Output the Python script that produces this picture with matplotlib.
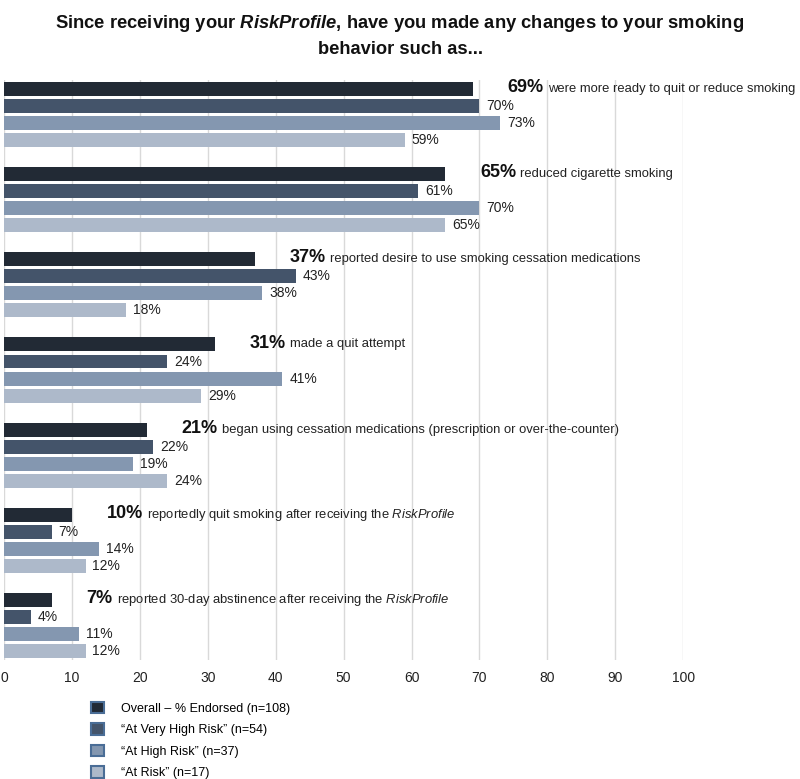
import matplotlib
matplotlib.use("Agg")
import matplotlib.pyplot as plt
from matplotlib.patches import Patch
import numpy as np

plt.rcParams['font.family'] = ['Liberation Sans', 'DejaVu Sans']
plt.rcParams['mathtext.fontset'] = 'custom'
plt.rcParams['mathtext.rm'] = 'Liberation Sans'
plt.rcParams['mathtext.it'] = 'Liberation Sans:italic'
plt.rcParams['mathtext.bf'] = 'Liberation Sans:bold:italic'

# data
items = ["were more ready to quit or reduce smoking",
         "reduced cigarette smoking",
         "reported desire to use smoking cessation medications",
         "made a quit attempt",
         "began using cessation medications (prescription or over-the-counter)",
         r"reportedly quit smoking after receiving the $\mathit{RiskProfile}$",
         r"reported 30-day abstinence after receiving the $\mathit{RiskProfile}$"]
overall = [69, 65, 37, 31, 21, 10, 7]
very_high = [70, 61, 43, 24, 22, 7, 4]
high = [73, 70, 38, 41, 19, 14, 11]
at_risk = [59, 65, 18, 29, 24, 12, 12]
series_names = ["Overall \u2013 % Endorsed (n=108)",
                "\u201cAt Very High Risk\u201d (n=54)",
                "\u201cAt High Risk\u201d (n=37)",
                "\u201cAt Risk\u201d (n=17)"]
colors = ['#222a35', '#44546a', '#8497b0', '#adb9ca']

fig = plt.figure(figsize=(8, 7.79), dpi=100)
ax = fig.add_axes([0.005, 0.153, 0.849, 0.744])

series = [overall, very_high, high, at_risk]
n = len(items)
for j, vals in enumerate(series):
    ys = np.arange(n) * 5 + j
    ax.barh(ys, vals, height=0.82, color=colors[j], zorder=3)
    if j > 0:
        for y, v in zip(ys, vals):
            ax.annotate(f"{v}%", xy=(v, y), xytext=(5, 0), textcoords='offset points',
                        va='center', ha='left', fontsize=10, color='#222222')

for i in range(n):
    v = overall[i]
    t = ax.annotate(f"{v}%", xy=(v, i * 5), xytext=(25, 1), textcoords='offset points',
                    va='center', ha='left', fontsize=13, fontweight='bold', color='#111111')
    ax.annotate(items[i], xy=(1, 0.5), xycoords=t, xytext=(3, -1), textcoords='offset points',
                va='center', ha='left', fontsize=9.4, color='#222222')

ax.set_xlim(0, 100)
ax.set_ylim(33.5, -0.5)
ax.set_xticks(range(0, 101, 10))
ax.set_yticks([])
ax.tick_params(axis='x', length=0, labelsize=10, pad=8, labelcolor='#222222')
ax.grid(axis='x', color='#d9d9d9', linewidth=1, zorder=0)
for s in ax.spines.values():
    s.set_visible(False)

fig.text(0.5, 0.983, r"Since receiving your $\mathbf{RiskProfile}$, have you made any changes to your smoking"
         "\nbehavior such as...", ha='center', va='top', fontsize=13.2, fontweight='bold',
         linespacing=1.55, color='#111111')

handles = [Patch(facecolor=c, edgecolor='#4a6d96', linewidth=1.5) for c in colors]
fig.legend(handles, series_names, loc='upper left', bbox_to_anchor=(0.104, 1 - 694 / 779),
           frameon=False, fontsize=9, handlelength=1.05, handleheight=1.05,
           labelspacing=0.68, handletextpad=1.4, borderaxespad=0.2)

fig.savefig("out.png", dpi=100)
